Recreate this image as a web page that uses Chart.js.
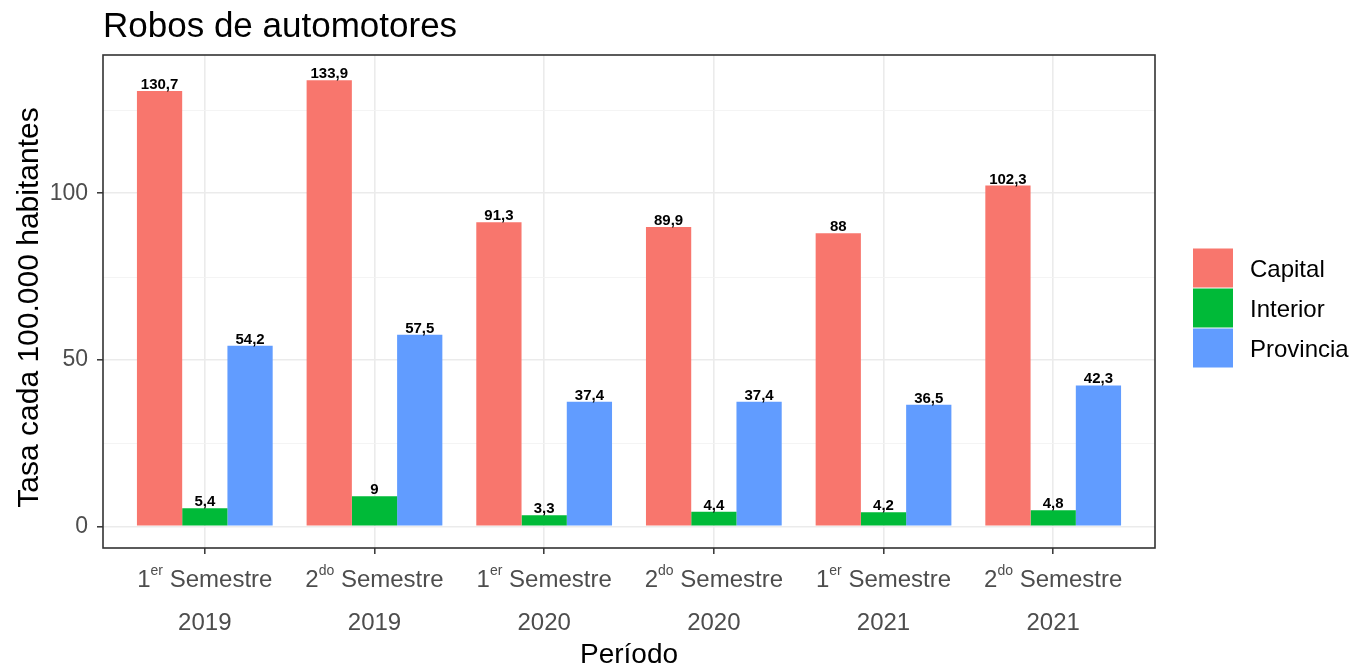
<!DOCTYPE html>
<html lang="es">
<head>
<meta charset="UTF-8">
<title>Robos de automotores</title>
<script src="https://cdn.jsdelivr.net/npm/chart.js"></script>
<style>
  html, body { margin: 0; padding: 0; background: #fff; }
  canvas { display: block; }
</style>
</head>
<body>
<canvas id="robosChart" width="1358" height="670"></canvas>
<script>
  // Periodos: número de semestre, sufijo ordinal y año
  const semestres = ['1', '2', '1', '2', '1', '2'];
  const sufijos = ['er', 'do', 'er', 'do', 'er', 'do'];
  const anios = ['2019', '2019', '2020', '2020', '2021', '2021'];

  // Tasa cada 100.000 habitantes
  const capital = [130.7, 133.9, 91.3, 89.9, 88, 102.3];
  const interior = [5.4, 9, 3.3, 4.4, 4.2, 4.8];
  const provincia = [54.2, 57.5, 37.4, 37.4, 36.5, 42.3];

  const series = ['Capital', 'Interior', 'Provincia'];
  const colores = ['#F8766D', '#00BA38', '#619CFF'];

  const ticksY = [0, 50, 100];
  const gridMenorY = [25, 75, 125];

  const FUENTE = '"Liberation Sans", Arial, sans-serif';
  Chart.defaults.font.family = FUENTE;

  // estilo tipo ggplot (theme_bw): grilla menor, borde del panel, etiquetas, leyenda
  const estiloPanel = {
    id: 'estiloPanel',
    beforeDatasetsDraw(chart) {
      const { ctx, chartArea: a, scales: { y } } = chart;
      ctx.save();
      ctx.strokeStyle = '#f3f3f3';
      ctx.lineWidth = 0.9;
      gridMenorY.forEach(v => {
        const py = Math.round(y.getPixelForValue(v)) + 0.5;
        ctx.beginPath();
        ctx.moveTo(a.left, py);
        ctx.lineTo(a.right, py);
        ctx.stroke();
      });
      ctx.restore();
    },
    afterDatasetsDraw(chart) {
      const { ctx, chartArea: a } = chart;
      ctx.save();
      // valores sobre cada barra
      ctx.font = 'bold 15px ' + FUENTE;
      ctx.fillStyle = '#000';
      ctx.textAlign = 'center';
      ctx.textBaseline = 'alphabetic';
      chart.data.datasets.forEach((ds, di) => {
        chart.getDatasetMeta(di).data.forEach((bar, i) => {
          const txt = String(ds.data[i].y).replace('.', ',');
          ctx.fillText(txt, bar.x, bar.y - 2);
        });
      });
      // borde del panel
      ctx.strokeStyle = '#333333';
      ctx.lineWidth = 1.6;
      ctx.strokeRect(a.left, a.top, a.right - a.left, a.bottom - a.top);
      ctx.restore();
    },
    afterDraw(chart) {
      const { ctx, chartArea: a, scales: { x } } = chart;
      ctx.save();

      // título
      ctx.fillStyle = '#000';
      ctx.font = '35px ' + FUENTE;
      ctx.textAlign = 'left';
      ctx.textBaseline = 'alphabetic';
      ctx.fillText('Robos de automotores', a.left, 37);

      // etiquetas del eje x con superíndice
      ctx.fillStyle = '#4d4d4d';
      semestres.forEach((s, i) => {
        const cx = x.getPixelForValue(i);
        ctx.font = '24px ' + FUENTE;
        const w1 = ctx.measureText(s).width;
        const w3 = ctx.measureText(' Semestre').width;
        ctx.font = '14px ' + FUENTE;
        const w2 = ctx.measureText(sufijos[i]).width;
        let px = cx - (w1 + w2 + w3) / 2;
        ctx.textAlign = 'left';
        ctx.font = '24px ' + FUENTE;
        ctx.fillText(s, px, 587);
        px += w1;
        ctx.font = '14px ' + FUENTE;
        ctx.fillText(sufijos[i], px, 575);
        px += w2;
        ctx.font = '24px ' + FUENTE;
        ctx.fillText(' Semestre', px, 587);
        ctx.textAlign = 'center';
        ctx.fillText(anios[i], cx, 630);
      });

      // títulos de ejes
      ctx.fillStyle = '#000';
      ctx.font = '28px ' + FUENTE;
      ctx.textAlign = 'center';
      ctx.fillText('Período', (a.left + a.right) / 2, 663);

      ctx.save();
      ctx.font = '30px ' + FUENTE;
      ctx.translate(38, (a.top + a.bottom) / 2 + 6);
      ctx.rotate(-Math.PI / 2);
      ctx.fillText('Tasa cada 100.000 habitantes', 0, 0);
      ctx.restore();

      // leyenda
      ctx.font = '24px ' + FUENTE;
      ctx.textAlign = 'left';
      chart.data.datasets.forEach((ds, i) => {
        const top = 248 + i * 40;
        ctx.fillStyle = ds.backgroundColor;
        ctx.fillRect(1193, top + 0.5, 40, 39);
        ctx.fillStyle = '#000';
        ctx.fillText(ds.label, 1250, top + 28.5);
      });

      ctx.restore();
    }
  };

  const puntos = arr => arr.map((v, i) => ({ x: i, y: v }));

  new Chart(document.getElementById('robosChart').getContext('2d'), {
    type: 'bar',
    data: {
      datasets: [capital, interior, provincia].map((arr, i) => ({
        label: series[i],
        data: puntos(arr),
        backgroundColor: colores[i],
        borderWidth: 0,
        categoryPercentage: 0.8,
        barPercentage: 1.0
      }))
    },
    options: {
      responsive: false,
      animation: false,
      layout: { padding: { left: 0, top: 55, right: 203, bottom: 0 } },
      plugins: {
        legend: { display: false },
        tooltip: { enabled: false },
        title: { display: false }
      },
      scales: {
        x: {
          type: 'linear',
          min: -0.6,
          max: 5.6,
          offset: false,
          afterBuildTicks: s => { s.ticks = semestres.map((_, i) => ({ value: i })); },
          afterFit: s => { s.height = 122; },
          ticks: { display: false },
          grid: {
            offset: false,
            color: '#ebebeb',
            lineWidth: 1.6,
            tickColor: '#333333',
            tickWidth: 1.5,
            tickLength: 6
          },
          border: { display: false }
        },
        y: {
          min: -6.5,
          max: 141.5,
          afterBuildTicks: s => { s.ticks = ticksY.map(v => ({ value: v })); },
          afterFit: s => { s.width = 103; },
          ticks: {
            color: '#4d4d4d',
            font: { size: 23 },
            padding: 9
          },
          grid: {
            color: '#ebebeb',
            lineWidth: 1.6,
            tickColor: '#333333',
            tickWidth: 1.5,
            tickLength: 6
          },
          border: { display: false }
        }
      }
    },
    plugins: [estiloPanel]
  });
</script>
</body>
</html>
